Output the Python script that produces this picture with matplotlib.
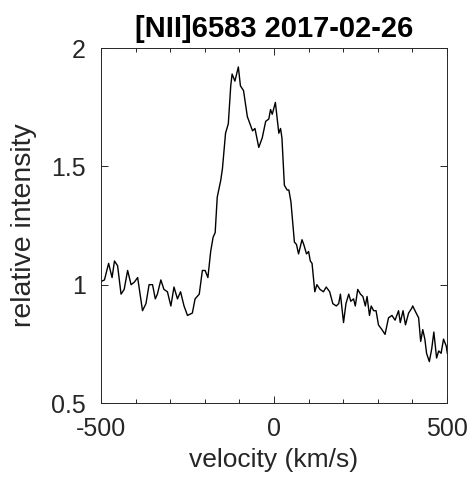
import numpy as np
import matplotlib.pyplot as plt

plt.rcParams['font.family'] = ['Liberation Sans', 'DejaVu Sans']
plt.rcParams['axes.unicode_minus'] = False

title = '[NII]6583 2017-02-26'

# values
velocity = np.array([
    -505, -490, -478, -468, -461, -452, -442, -433, -423, -413,
    -404, -394, -380, -370, -361, -351, -343, -337, -327, -318,
    -308, -298, -289, -279, -270, -260, -250, -236, -228, -216,
    -207, -199, -191, -183, -176, -170, -164, -154, -149, -140,
    -132, -125, -121, -113, -103, -97, -88, -77, -67, -62,
    -55, -44, -34, -24, -15, -10, -5, 4, 14, 19,
    23, 30, 38, 43, 49, 59, 65, 71, 81, 86,
    94, 100, 105, 110, 118, 124, 133, 143, 151, 161,
    170, 180, 187, 192, 201, 208, 216, 222, 230, 235,
    242, 250, 257, 264, 269, 276, 281, 288, 295, 302,
    312, 321, 331, 341, 350, 360, 365, 373, 380, 389,
    398, 401, 411, 418, 424, 430, 436, 441, 449, 456,
    462, 470, 476, 483, 490, 498, 501,
])
intensity = np.array([
    1.01, 1.02, 1.09, 1.03, 1.10, 1.08, 0.96, 0.98, 1.06, 1.00,
    1.01, 1.03, 0.89, 0.92, 1.00, 1.00, 0.94, 0.96, 1.02, 0.98,
    0.97, 0.91, 0.99, 0.94, 0.97, 0.91, 0.87, 0.88, 0.94, 0.96,
    1.06, 1.06, 1.03, 1.14, 1.20, 1.22, 1.37, 1.44, 1.49, 1.64,
    1.68, 1.84, 1.89, 1.86, 1.92, 1.84, 1.82, 1.71, 1.67, 1.65,
    1.66, 1.58, 1.62, 1.69, 1.70, 1.74, 1.72, 1.77, 1.64, 1.66,
    1.62, 1.42, 1.40, 1.40, 1.35, 1.18, 1.17, 1.13, 1.19, 1.17,
    1.13, 1.14, 1.10, 1.09, 0.97, 1.00, 0.98, 0.97, 0.99, 0.97,
    0.92, 0.91, 0.92, 0.96, 0.84, 0.92, 0.96, 0.93, 0.94, 0.91,
    0.98, 0.96, 0.95, 0.91, 0.95, 0.87, 0.91, 0.89, 0.89, 0.83,
    0.81, 0.79, 0.86, 0.87, 0.85, 0.89, 0.84, 0.89, 0.83, 0.88,
    0.90, 0.91, 0.88, 0.86, 0.76, 0.81, 0.77, 0.71, 0.675, 0.73,
    0.80, 0.69, 0.72, 0.71, 0.77, 0.74, 0.71,
])

fig = plt.figure(figsize=(4.73, 4.80), dpi=100)
ax = fig.add_axes([0.2135, 0.1604, 0.7315, 0.7396])

ax.plot(velocity, intensity, color='black', linewidth=1.0)

ax.set_xlim(-500, 500)
ax.set_ylim(0.5, 2)
ax.set_xticks([-500, 0, 500])
ax.set_xticks(np.arange(-500, 501, 100), minor=True)
ax.set_yticks([0.5, 1, 1.5, 2])
ax.set_yticklabels(['0.5', '1', '1.5', '2'])
ax.tick_params(which='both', direction='in', top=True, right=True,
               labelsize=18, width=0.7, colors='#262626')
ax.tick_params(axis='x', which='major', pad=10)
ax.tick_params(axis='y', which='major', pad=11)
ax.tick_params(which='major', length=5)
ax.tick_params(which='minor', length=3)
for s in ax.spines.values():
    s.set_linewidth(0.7)
    s.set_color('#262626')

ax.set_xlabel('velocity (km/s)', fontsize=19, color='#262626', labelpad=5)
ax.set_ylabel('relative intensity', fontsize=20.5, color='#262626', labelpad=10)
ax.set_title(title, fontsize=21, fontweight='bold', pad=8)

fig.savefig('out.png', dpi=100)
